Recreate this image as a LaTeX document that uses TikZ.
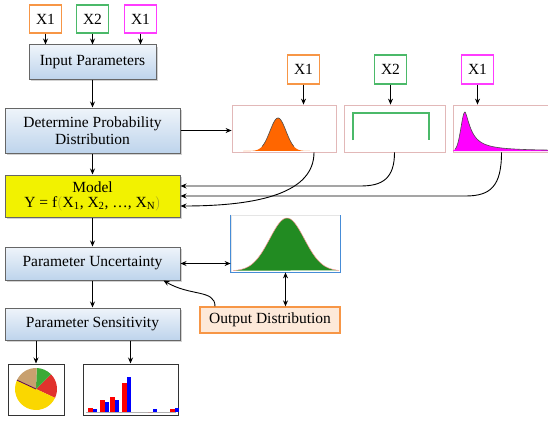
\documentclass[tikz,border=0pt]{standalone}
\usepackage{fontspec}
\setmainfont{Liberation Serif}
\usepackage{xcolor}
\usepackage{tikz}
\usetikzlibrary{arrows.meta,positioning,shadows,calc}

\definecolor{stepblue}{RGB}{190,212,236}
\definecolor{modelyellow}{RGB}{242,242,0}
\definecolor{xorange}{RGB}{247,150,70}
\definecolor{xgreen}{RGB}{75,185,105}
\definecolor{xmagenta}{RGB}{255,60,255}
\definecolor{panelpink}{RGB}{226,184,184}
\definecolor{outblue}{RGB}{70,140,215}
\definecolor{outfill}{RGB}{253,233,217}
\definecolor{curveorange}{RGB}{255,102,0}
\definecolor{curvegreen}{RGB}{34,139,34}
\definecolor{curvemagenta}{RGB}{255,0,255}
\definecolor{parencol}{RGB}{150,150,40}
\definecolor{piered}{RGB}{225,50,45}
\definecolor{piegreen}{RGB}{60,170,55}
\definecolor{pietan}{RGB}{200,160,110}
\definecolor{pieyellow}{RGB}{250,215,0}
\definecolor{barred}{RGB}{255,0,0}
\definecolor{barblue}{RGB}{0,0,255}

\begin{document}
\begin{tikzpicture}[x=1pt, y=-1pt, >={Stealth[length=6pt, width=5pt]},
  every node/.style={font=\fontsize{15.5}{17}\selectfont},
  boxbase/.style={draw=black!60, line width=1pt, align=center, inner sep=2pt,
    drop shadow={shadow xshift=2pt, shadow yshift=-2pt, fill=black!35}},
  stepbox/.style={boxbase, top color=stepblue!25, bottom color=stepblue},
  modelbox/.style={boxbase, fill=modelyellow},
  xbox/.style={draw=#1, fill=white, line width=1.3pt, minimum width=32pt, minimum height=28pt},
  panel/.style={draw=panelpink, line width=0.8pt, fill=white},
  chart/.style={draw=black!80, line width=1pt, fill=white},
  link/.style={->, line width=0.9pt}]
\useasboundingbox (0,0) rectangle (548,420);
\clip (0,0) rectangle (548,420);

% main column
\node[stepbox, minimum width=127pt, minimum height=34pt] (input) at (92.5,62) {Input Parameters};
\node[stepbox, minimum width=175pt, minimum height=45pt, below=28pt of input] (determ) {Determine Probability\\Distribution};
\node[modelbox, minimum width=175pt, minimum height=42pt, below=21pt of determ] (model)
  {Model\\[-2pt]Y = f\textcolor{parencol}{$\Bigl($}X\textsubscript{1}, X\textsubscript{2}, \ldots, X\textsubscript{N}\textcolor{parencol}{$\Bigr)$}};
\node[stepbox, minimum width=175pt, minimum height=33pt, below=29pt of model] (uncert) {Parameter Uncertainty};
\node[stepbox, minimum width=175pt, minimum height=32pt, below=27pt of uncert] (sensit) {Parameter Sensitivity};

% input variables
\node[xbox=xorange] (xa) at (45.5,19) {X1};
\node[xbox=xgreen] (xb) at (92.5,19) {X2};
\node[xbox=xmagenta] (xc) at (140.5,19) {X1};

% distributions of the inputs
\node[panel, minimum width=104pt, minimum height=47pt] (dist1) at (284,128.5) {};
\node[panel, minimum width=101pt, minimum height=47pt] (dist2) at (394.5,128.5) {};
\node[panel, minimum width=97pt, minimum height=47pt] (dist3) at (501.5,128.5) {};
\node[xbox=xorange, minimum height=29pt] (xd) at (303.5,69.5) {X1};
\node[xbox=xgreen, minimum height=29pt] (xe) at (390.5,69.5) {X2};
\node[xbox=xmagenta, minimum height=29pt] (xf) at (477.5,69.5) {X1};

% output
\node[panel, draw=black!10, minimum width=109pt, minimum height=57pt] (outpanel) at (285.5,243.5) {};
\draw[outblue, line width=1pt] (outpanel.north west) -- (outpanel.south west) -- (outpanel.south east) -- (outpanel.north east);
\node[draw=xorange, fill=outfill, line width=1.3pt, minimum width=140pt, minimum height=26pt] (outdist) at (270,320) {Output Distribution};

% sensitivity charts
\node[chart, minimum width=56pt, minimum height=51pt] (pie) at (36,389.5) {};
\node[chart, minimum width=95pt, minimum height=51pt] (bars) at (130.5,389.5) {};

% normal
\fill[curveorange] plot[domain=243:310, samples=60] (\x,{151-33*exp(-((\x-278)*(\x-278))/128)}) -- cycle;
\draw[black!70, line width=0.6pt] plot[domain=262:294, samples=40] (\x,{151-33*exp(-((\x-278)*(\x-278))/128)});
% uniform
\draw[xgreen, line width=1.2pt] (353,140) -- (353,113) -- (429,113) -- (429,140);
% skewed
\fill[curvemagenta] (453,151) -- plot[domain=453:465, samples=25] (\x,{151-39*exp(-((\x-465)*(\x-465))/32)})
  -- plot[domain=465.5:550, samples=60] (\x,{151-39/(1+((\x-465)/7)^1.5)}) -- (550,151) -- cycle;
\draw[black!70, line width=0.6pt] plot[domain=455:465, samples=25] (\x,{151-39*exp(-((\x-465)*(\x-465))/32)})
  -- plot[domain=465.5:550, samples=60] (\x,{151-39/(1+((\x-465)/7)^1.5)});
% output histogram
\fill[curvegreen] plot[domain=233:339, samples=80] (\x,{271-53*exp(-((\x-287)*(\x-287))/600)}) -- cycle;
\draw[red!40, line width=0.5pt] plot[domain=233:339, samples=80] (\x,{271-53*exp(-((\x-287)*(\x-287))/600)});

% pie
\begin{scope}[shift={(36,389)}]
  \fill[piered] (0,0) -- (25:21) arc[start angle=25, end angle=-45, radius=21] -- cycle;
  \fill[piegreen] (0,0) -- (-45:21) arc[start angle=-45, end angle=-88, radius=21] -- cycle;
  \fill[pietan] (0,0) -- (-88:21) arc[start angle=-88, end angle=-155, radius=21] -- cycle;
  \fill[pieyellow] (0,0) -- (-155:21) arc[start angle=-155, end angle=-335, radius=21] -- cycle;
  \draw[violet!70!black, line width=0.8pt] (0,0) -- (-155:21);
\end{scope}

% bars
\draw[black!30, line width=0.5pt] (86,412) -- (176,412);
\foreach \bx/\rt/\bt in {88/408/409, 100/400/402, 110/397/400, 122/383/377, 148/412/409, 170/409/408} {
  \fill[barred] (\bx,412) rectangle ++(5,{\rt-412});
  \fill[barblue] ({\bx+5},412) rectangle ++(4,{\bt-412});
}

% connectors
\foreach \v in {xa,xb,xc} \draw[link] (\v.south) -- (\v.south |- input.north);
\foreach \v/\d in {xd/dist1,xe/dist2,xf/dist3} \draw[link] (\v.south) -- (\v.south |- \d.north);
\draw[link] (input) -- (determ);
\draw[link] (determ) -- (model);
\draw[link] (model) -- (uncert);
\draw[link] (uncert) -- (sensit);
\draw[link] (determ.east) -- (determ.east -| dist1.west);
\coordinate (m1) at ([yshift=10pt]model.east);
\coordinate (m2) at (model.east);
\coordinate (m3) at ([yshift=-10pt]model.east);
\draw[link] (dist2.south) .. controls +(0,26) and +(22,0) .. ($(m1)+(180,0)$) -- (m1);
\draw[link] (dist3.south) .. controls +(0,34) and +(25,0) .. ($(m2)+(285,0)$) -- (m2);
\draw[link] ([xshift=30pt]dist1.south) .. controls +(0,40) and +(80,0) .. (m3);
\draw[link, <->] (uncert.east) -- (outpanel.west |- uncert.east);
\draw[link, <->] (outpanel.south) -- (outpanel.south |- outdist.north);
\draw[link] ([xshift=-55pt]outdist.north) .. controls +(0,-17) and +(27,16) .. ([xshift=71pt]uncert.south);
\draw[link] (pie.north |- sensit.south) -- (pie.north);
\draw[link] (bars.north |- sensit.south) -- (bars.north);
\end{tikzpicture}
\end{document}
